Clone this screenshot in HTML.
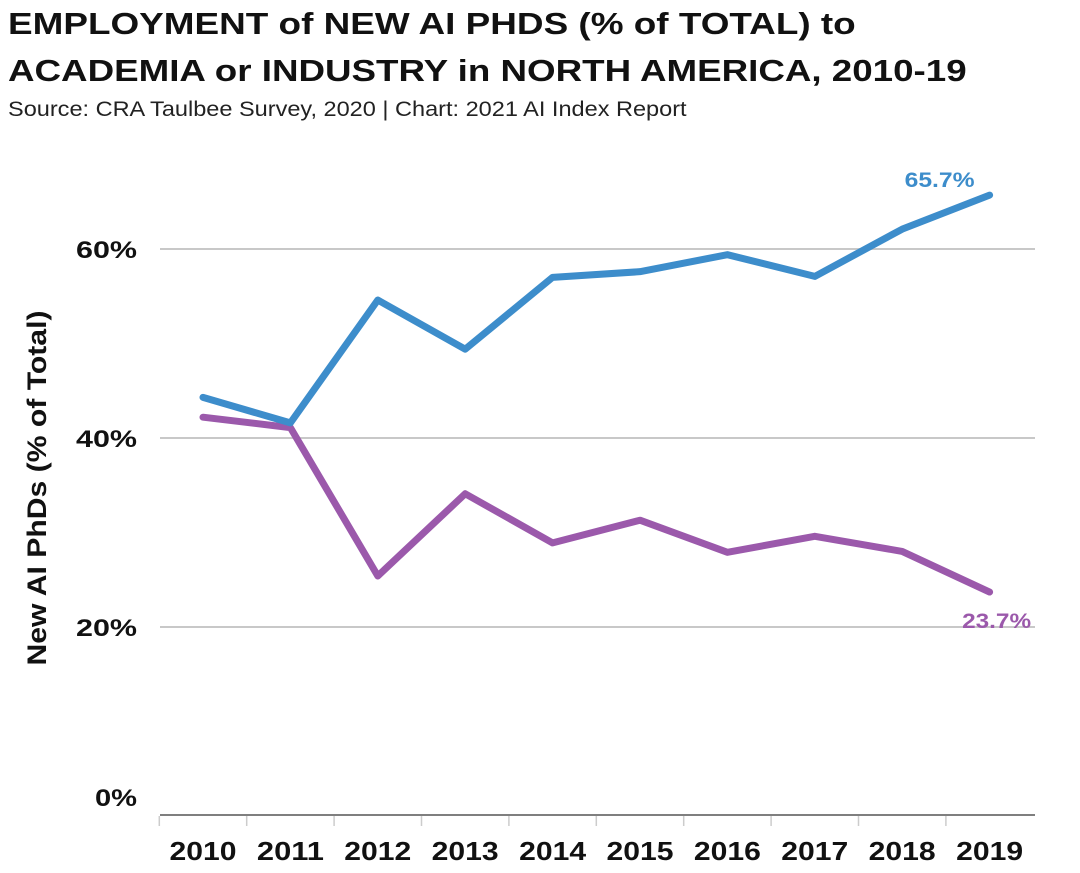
<!DOCTYPE html>
<html><head><meta charset="utf-8"><style>
body{margin:0;background:#fff;font-family:"Liberation Sans",sans-serif;}
#wrap{position:relative;width:1080px;height:873px;overflow:hidden;}
.t{position:absolute;left:8px;font-weight:bold;font-size:31px;color:#111;line-height:38px;transform-origin:left top;white-space:nowrap;}
.s{position:absolute;left:8px;top:98px;font-size:21px;color:#222;transform:scaleX(1.12);transform-origin:left top;white-space:nowrap;}
</style></head><body>
<div id="wrap">
<div class="t" style="top:5px;transform:scaleX(1.19)">EMPLOYMENT of NEW AI PHDS (% of TOTAL) to</div>
<div class="t" style="top:52px;transform:scaleX(1.185)">ACADEMIA or INDUSTRY in NORTH AMERICA, 2010-19</div>
<div class="s">Source: CRA Taulbee Survey, 2020 | Chart: 2021 AI Index Report</div>
<svg id="svg" width="1080" height="873" style="position:absolute;left:0;top:0"></svg>
</div>
<script>
const years=["2010","2011","2012","2013","2014","2015","2016","2017","2018","2019"];
const academia=[42.2,41.1,25.4,34.1,28.9,31.3,27.9,29.6,28.0,23.7];
const industry=[44.3,41.6,54.6,49.4,57.0,57.6,59.4,57.1,62.1,65.7];
const yTicks=[0,20,40,60];
const yTickLabels=["0%","20%","40%","60%"];
const NS="http://www.w3.org/2000/svg";
const svg=document.getElementById('svg');
const x=i=>203+i*87.4;
const y=v=>816-v*9.45;
function mk(t,a){const e=document.createElementNS(NS,t);for(const k in a)e.setAttribute(k,a[k]);svg.appendChild(e);return e;}
yTicks.forEach((v,i)=>{
 if(v>0){const g=mk('line',{x1:160,x2:1035,y1:y(v),y2:y(v),stroke:'#c8c8c8','stroke-width':2});
 
 }
 const t=mk('text',{x:137,y:v===0?806:y(v)+9,'text-anchor':'end','font-size':24,'font-weight':'bold',fill:'#111',textLength:v===0?42:61,lengthAdjust:'spacingAndGlyphs'});
 t.textContent=yTickLabels[i];
 
 
});
const base=mk('line',{x1:160,x2:1035,y1:815,y2:815,stroke:'#555','stroke-width':1.5});


years.forEach((yr,i)=>{
 const tk=mk('line',{x1:x(i)-43.7,x2:x(i)-43.7,y1:816,y2:826,stroke:'#ccc','stroke-width':1.5});
 
 
 const t=mk('text',{x:x(i),y:860,'text-anchor':'middle','font-size':26,'font-weight':'bold',fill:'#111',textLength:67,lengthAdjust:'spacingAndGlyphs'});
 t.textContent=yr;
 
 
});
const yt=mk('text',{x:46,y:488,transform:'rotate(-90 46 488)','text-anchor':'middle','font-size':27,'font-weight':'bold',fill:'#111',textLength:355,lengthAdjust:'spacingAndGlyphs'});
yt.textContent='New AI PhDs (% of Total)';


function series(vals,col,name){
 const p=mk('polyline',{points:vals.map((v,i)=>x(i)+','+y(v)).join(' '),fill:'none',stroke:col,'stroke-width':7,'stroke-linejoin':'round','stroke-linecap':'round'});
 
 
}
series(academia,'#9b59ab','academia-line');
series(industry,'#3d8dcb','industry-line');
const n=years.length-1;
const l1=mk('text',{x:x(n)-50,y:y(industry[n])-8,'text-anchor':'middle','font-size':21,'font-weight':'bold',fill:'#3d8dcb',textLength:70,lengthAdjust:'spacingAndGlyphs'});
l1.textContent=industry[n].toFixed(1)+'%';


const l2=mk('text',{x:x(n)+7,y:y(academia[n])+36,'text-anchor':'middle','font-size':21,'font-weight':'bold',fill:'#9b59ab',textLength:69,lengthAdjust:'spacingAndGlyphs'});
l2.textContent=academia[n].toFixed(1)+'%';


</script>
</body></html>
